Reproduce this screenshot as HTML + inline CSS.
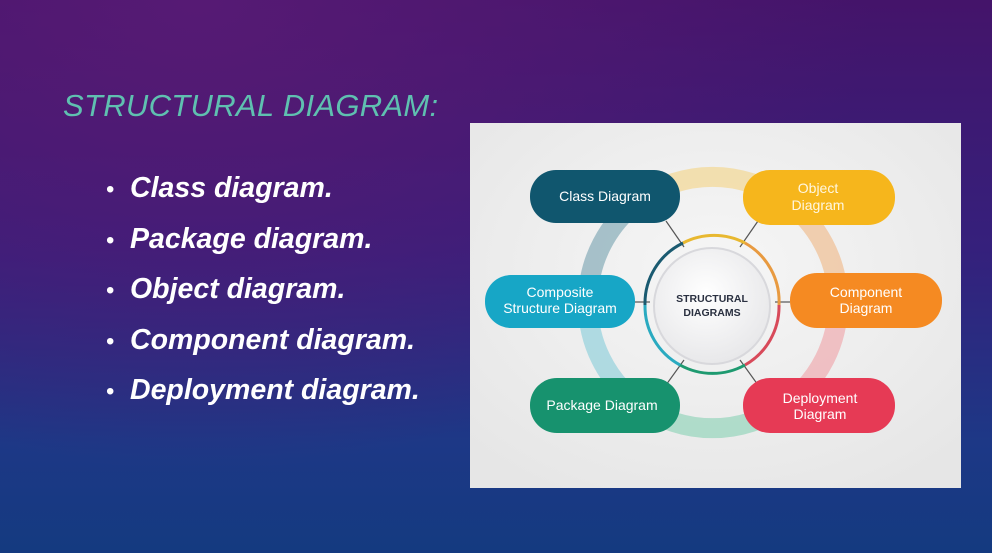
<!DOCTYPE html>
<html><head><meta charset="utf-8"><style>
body{margin:0;width:992px;height:553px;overflow:hidden;font-family:"Liberation Sans",sans-serif;}
.bg{position:absolute;left:0;top:0;width:992px;height:553px;background:radial-gradient(ellipse at 20% 0%,#561a74 0%,transparent 60%),linear-gradient(180deg,#44146a 0%,#35207c 45%,#1d3886 80%,#143a80 100%);}
h1{position:absolute;left:63px;top:88px;margin:0;font-weight:normal;font-style:italic;font-size:31px;color:#5fc0b0;letter-spacing:0.3px;}
ul{position:absolute;left:106px;top:170px;margin:0;padding:0;list-style:none;}
li{color:#fff;font-weight:bold;font-style:italic;font-size:28.5px;height:50.5px;line-height:36px;}
li span{display:inline-block;width:24px;font-style:normal;font-weight:normal;font-size:24px;}
</style></head><body>
<div class="bg"></div>
<h1>STRUCTURAL DIAGRAM:</h1>
<ul>
<li><span>•</span>Class diagram.</li>
<li><span>•</span>Package diagram.</li>
<li><span>•</span>Object diagram.</li>
<li><span>•</span>Component diagram.</li>
<li><span>•</span>Deployment diagram.</li>
</ul>
<svg style="position:absolute;left:470px;top:123px" width="491" height="365" viewBox="470 123 491 365">
<defs><radialGradient id="g" cx="50%" cy="40%" r="70%"><stop offset="0" stop-color="#f6f6f6"/><stop offset="1" stop-color="#e6e6e6"/></radialGradient>
<radialGradient id="c" cx="45%" cy="40%" r="60%"><stop offset="0" stop-color="#fff"/><stop offset="1" stop-color="#e8e8ea"/></radialGradient></defs>
<rect x="470" y="123" width="491" height="365" fill="url(#g)"/>
<g fill="none" stroke-width="20" opacity="0.55">
<path d="M640 200 A125 125 0 0 1 785 200" stroke="#f5d27a"/>
<path d="M785 200 A125 125 0 0 1 838 300" stroke="#f0b27a"/>
<path d="M838 300 A125 125 0 0 1 785 405" stroke="#f09aa0"/>
<path d="M785 405 A125 125 0 0 1 640 405" stroke="#7fcfb0"/>
<path d="M640 405 A125 125 0 0 1 588 300" stroke="#7ccad8"/>
<path d="M588 300 A125 125 0 0 1 640 200" stroke="#6a9aaa"/>
</g>
<g stroke="#555" stroke-width="1.2">
<line x1="666" y1="221" x2="684" y2="247"/><line x1="758" y1="221" x2="740" y2="247"/>
<line x1="635" y1="302" x2="650" y2="302"/><line x1="775" y1="302" x2="790" y2="302"/>
<line x1="666" y1="385" x2="684" y2="360"/><line x1="758" y1="385" x2="740" y2="360"/>
</g>
<g fill="none" stroke-width="3">
<path d="M683 243 A67 67 0 0 1 745 243" stroke="#e8b830"/>
<path d="M745 243 A67 67 0 0 1 779 305" stroke="#e89a40"/>
<path d="M779 305 A67 67 0 0 1 745 365" stroke="#d84a5a"/>
<path d="M745 365 A67 67 0 0 1 680 365" stroke="#1e9a70"/>
<path d="M680 365 A67 67 0 0 1 645 305" stroke="#2aaac0"/>
<path d="M645 305 A67 67 0 0 1 683 243" stroke="#1a5a70"/>
</g>
<circle cx="712" cy="306" r="58" fill="url(#c)" stroke="#d8d8dc" stroke-width="2"/>
<text x="712" y="302" text-anchor="middle" font-size="10.5" font-weight="bold" fill="#2a3040">STRUCTURAL</text>
<text x="712" y="316" text-anchor="middle" font-size="10.5" font-weight="bold" fill="#2a3040">DIAGRAMS</text>
<g font-size="14" fill="#fff" text-anchor="middle">
<rect x="530" y="170" width="150" height="53" rx="26" fill="#10566e"/>
<text x="605" y="201">Class Diagram</text>
<rect x="743" y="170" width="152" height="55" rx="27" fill="#f6b61c"/>
<text x="818" y="193" fill="#fff7e0">Object</text><text x="818" y="210" fill="#fff7e0">Diagram</text>
<rect x="485" y="275" width="150" height="53" rx="26" fill="#17a6c6"/>
<text x="560" y="297">Composite</text><text x="560" y="313">Structure Diagram</text>
<rect x="790" y="273" width="152" height="55" rx="27" fill="#f58a22"/>
<text x="866" y="297">Component</text><text x="866" y="313">Diagram</text>
<rect x="530" y="378" width="150" height="55" rx="27" fill="#17926e"/>
<text x="602" y="410">Package Diagram</text>
<rect x="743" y="378" width="152" height="55" rx="27" fill="#e63a55"/>
<text x="820" y="403">Deployment</text><text x="820" y="419">Diagram</text>
</g>
</svg>
</body></html>
